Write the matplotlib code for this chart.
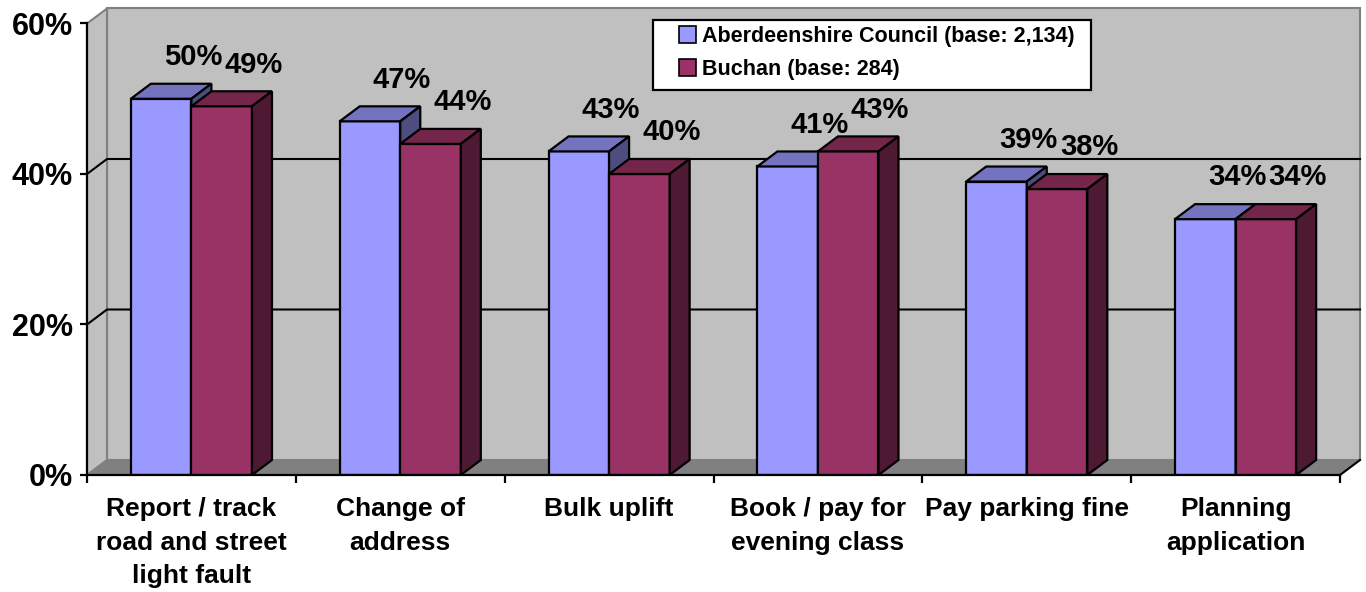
import matplotlib
matplotlib.use("Agg")
import matplotlib.pyplot as plt
from matplotlib.patches import Polygon, Rectangle, Patch
import numpy as np

plt.rcParams['font.family'] = ['Liberation Sans', 'DejaVu Sans']
plt.rcParams['font.weight'] = 'bold'

categories = ["Report / track\nroad and street\nlight fault", "Change of\naddress",
              "Bulk uplift", "Book / pay for\nevening class", "Pay parking fine",
              "Planning\napplication"]
aberdeenshire = [50, 47, 43, 41, 39, 34]
buchan = [49, 44, 40, 43, 38, 34]
series_labels = ["Aberdeenshire Council (base: 2,134)", "Buchan (base: 284)"]
yticks = [0, 20, 40, 60]

W, H = 1366, 592
fig = plt.figure(figsize=(W / 100, H / 100), dpi=100)
fig.patch.set_facecolor('white')
ax = fig.add_axes([87 / W, (H - 475) / H, (1340 - 87) / W, (475 - 23.5) / H])
ax.set_facecolor('none')
n = len(categories)
ymax = 60
ax.set_xlim(0, n)
ax.set_ylim(0, ymax)

DX = 20 / ((1340 - 87) / n)   # depth offset in category units
DY = 15 / ((475 - 23.5) / ymax)  # depth offset in percent units

wall = '#C0C0C0'
edge_gray = '#808080'
# back wall
ax.add_patch(Polygon([(DX, DY), (n + DX, DY), (n + DX, ymax + DY), (DX, ymax + DY)],
                     closed=True, facecolor=wall, edgecolor=edge_gray, lw=1.5,
                     clip_on=False, zorder=0.5))
# left wall
ax.add_patch(Polygon([(0, 0), (DX, DY), (DX, ymax + DY), (0, ymax)],
                     closed=True, facecolor=wall, edgecolor=edge_gray, lw=1.5,
                     clip_on=False, zorder=0.6))
# floor
ax.add_patch(Polygon([(0, 0), (n, 0), (n + DX, DY), (DX, DY)],
                     closed=True, facecolor='#808080', edgecolor='#808080', lw=1.0,
                     clip_on=False, zorder=0.7))
ax.plot([n, n + DX], [0, DY], color='black', lw=1.5, clip_on=False, zorder=0.8)
# gridlines
for v in yticks[1:-1]:
    ax.plot([0, DX, n + DX], [v, v + DY, v + DY], color='black', lw=1.5,
            clip_on=False, zorder=0.9)

bw = 0.29
xc = np.arange(n) + 0.5

def bar3d(x0, vals, front, top, side, z):
    ax.bar(x0, vals, width=bw, align='edge', color=front, edgecolor='black',
           linewidth=1.6, zorder=z, joinstyle='miter')
    for x, v in zip(x0, vals):
        ax.add_patch(Polygon([(x, v), (x + bw, v), (x + bw + DX, v + DY), (x + DX, v + DY)],
                             closed=True, facecolor=top, edgecolor='black', lw=1.6,
                             joinstyle='miter', clip_on=False, zorder=z))
        ax.add_patch(Polygon([(x + bw, 0), (x + bw + DX, DY), (x + bw + DX, v + DY), (x + bw, v)],
                             closed=True, facecolor=side, edgecolor='black', lw=1.6,
                             joinstyle='miter', clip_on=False, zorder=z))

for i in range(n):
    bar3d([xc[i] - bw], [aberdeenshire[i]], '#9999FF', '#7373BF', '#4D4D80', 3 + 2 * i)
    bar3d([xc[i]], [buchan[i]], '#993366', '#732649', '#4D1933', 4 + 2 * i)

# data labels
for i in range(n):
    for x, v in ((xc[i] - bw / 2, aberdeenshire[i]), (xc[i] + bw / 2, buchan[i])):
        ax.annotate(f"{v}%", (x, v), xytext=(23, 30), textcoords='offset points',
                    ha='center', va='center', fontsize=21, fontweight='bold',
                    annotation_clip=False, zorder=30)

# axes
for s in ['top', 'right']:
    ax.spines[s].set_visible(False)
ax.spines['left'].set_linewidth(1.6)
ax.spines['bottom'].set_linewidth(1.6)
ax.spines['left'].set_zorder(20)
ax.spines['bottom'].set_zorder(20)
ax.set_yticks(yticks)
ax.set_yticklabels([f"{v}%" for v in yticks], fontsize=22, fontweight='bold')
ax.tick_params(axis='y', length=5, width=1.6, pad=5)
ax.set_xticks(np.arange(n + 1))
ax.set_xticklabels([])
ax.tick_params(axis='x', which='major', length=6, width=1.6)
ax.set_xticks(xc, minor=True)
ax.set_xticklabels(categories, minor=True, fontsize=19, fontweight='bold',
                   linespacing=1.5)
ax.tick_params(axis='x', which='minor', length=0, pad=16)

# legend
rect = Rectangle((653 / W, 1 - 90 / H), 438 / W, 70 / H, transform=fig.transFigure,
                 facecolor='white', edgecolor='black', lw=1.6, zorder=40)
fig.add_artist(rect)
handles = [Patch(facecolor='#9999FF', edgecolor='black', lw=1.2),
           Patch(facecolor='#993366', edgecolor='black', lw=1.2)]
leg = fig.legend(handles, series_labels, loc='upper left',
                 bbox_to_anchor=(679 / W, 1 - 26 / H), frameon=False,
                 borderpad=0, borderaxespad=0, handlelength=0.8, handleheight=0.8,
                 handletextpad=0.25, labelspacing=0.55,
                 prop={'size': 15.5, 'weight': 'bold'})
leg.set_zorder(41)

fig.savefig('out.png', dpi=100)
